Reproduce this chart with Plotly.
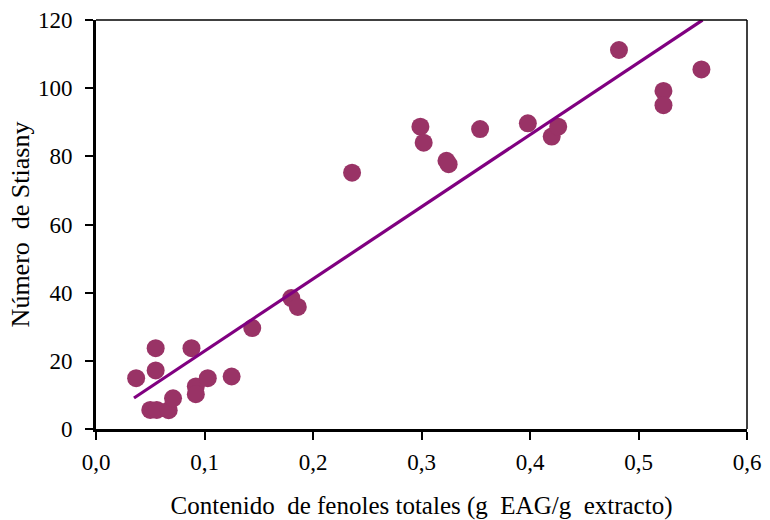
import plotly.graph_objects as go

# Data
fenoles = [0.037, 0.050, 0.056, 0.067, 0.055, 0.055, 0.071, 0.088, 0.092, 0.092,
           0.103, 0.125, 0.144, 0.180, 0.186, 0.236, 0.299, 0.302, 0.323, 0.325,
           0.354, 0.398, 0.420, 0.426, 0.482, 0.523, 0.523, 0.558]
stiasny = [14.9, 5.6, 5.6, 5.5, 23.7, 17.2, 9.0, 23.7, 12.5, 10.2,
           14.9, 15.4, 29.6, 38.4, 35.8, 75.2, 88.7, 84.0, 78.7, 77.7,
           88.0, 89.7, 85.8, 88.7, 111.2, 99.2, 95.0, 105.5]

trend_slope = 211.6
trend_intercept = 1.7
trend_x = [0.035, 0.559]
trend_y = [trend_intercept + trend_slope * v for v in trend_x]

x_ticks = [0.0, 0.1, 0.2, 0.3, 0.4, 0.5, 0.6]
y_ticks = [0, 20, 40, 60, 80, 100, 120]

FONT = "Liberation Serif"

fig = go.Figure()
fig.add_trace(go.Scatter(
    x=fenoles, y=stiasny, mode="markers",
    marker=dict(size=18, color="#993366", line=dict(width=0)),
    showlegend=False, cliponaxis=False,
))
fig.add_trace(go.Scatter(
    x=trend_x, y=trend_y, mode="lines",
    line=dict(color="#800080", width=3.2),
    showlegend=False,
))

fig.update_layout(
    width=770, height=520,
    margin=dict(l=96, r=23, t=20, b=91),
    paper_bgcolor="white", plot_bgcolor="white",
    separators=", ",
    font=dict(family=FONT, size=23, color="black"),
    xaxis=dict(
        range=[0, 0.6], tickvals=x_ticks, tickformat=".1f",
        automargin=False,
        showgrid=False, zeroline=False,
        showline=True, linecolor="black", linewidth=3,
        ticks="outside", ticklen=8, tickwidth=2, tickcolor="black",
        ticklabelstandoff=2,
        title=dict(text="Contenido  de fenoles totales (g  EAG/g  extracto)",
                   standoff=23, font=dict(size=25)),
    ),
    yaxis=dict(
        range=[0, 120], tickvals=y_ticks,
        automargin=False,
        showgrid=False, zeroline=False,
        showline=True, linecolor="black", linewidth=3,
        ticks="outside", ticklen=8, tickwidth=2, tickcolor="black",
        ticklabelstandoff=8,
        title=dict(text="Número  de Stiasny", standoff=1, font=dict(size=26)),
    ),
    shapes=[
        dict(type="line", xref="paper", yref="paper", x0=0, x1=1, y0=1, y1=1,
             line=dict(color="black", width=1.5)),
        dict(type="line", xref="paper", yref="paper", x0=1, x1=1, y0=0, y1=1,
             line=dict(color="black", width=1.5)),
    ],
)

fig.write_html("out.html")
